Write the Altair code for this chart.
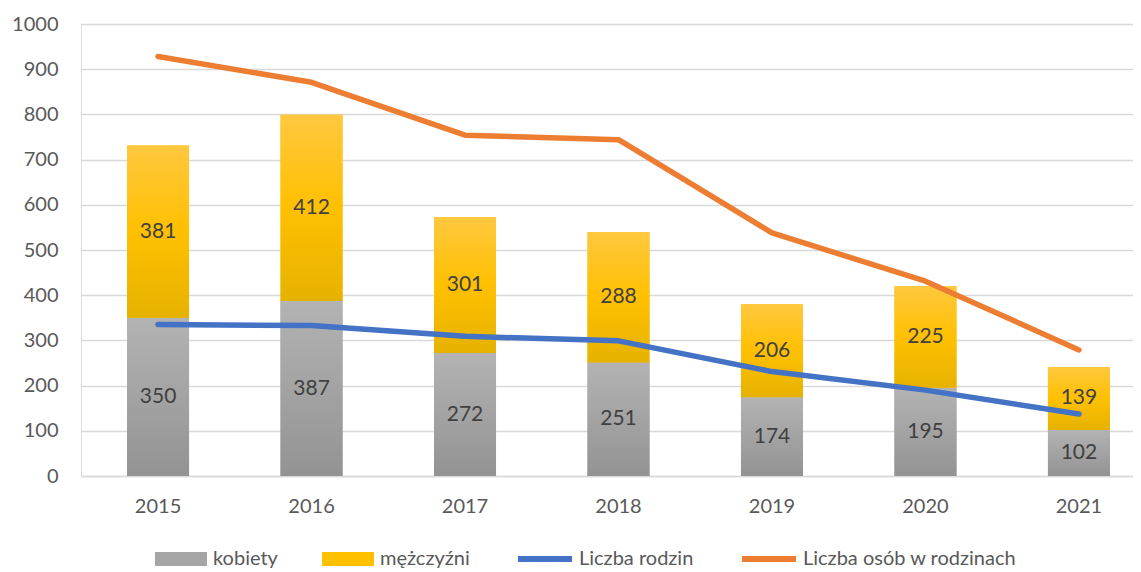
import altair as alt
import pandas as pd

years = ["2015", "2016", "2017", "2018", "2019", "2020", "2021"]
kobiety = [350, 387, 272, 251, 174, 195, 102]
mezczyzni = [381, 412, 301, 288, 206, 225, 139]
liczba_rodzin = [335, 333, 309, 299, 231, 190, 137]
liczba_osob = [928, 871, 754, 744, 538, 431, 279]

bar_series = ["kobiety", "mężczyźni"]
line_series = ["Liczba rodzin", "Liczba osób w rodzinach"]
y_ticks = [0, 100, 200, 300, 400, 500, 600, 700, 800, 900, 1000]

FONT = "Lato"
TEXT_GREY = "#595959"
GRID = "#D9D9D9"

wide = pd.DataFrame({"rok": years, "kobiety": kobiety, "mezczyzni": mezczyzni})
bars_long = pd.DataFrame({
    "rok": years * 2,
    "seria": [bar_series[0]] * len(years) + [bar_series[1]] * len(years),
    "wartosc": kobiety + mezczyzni,
    "kolejnosc": [0] * len(years) + [1] * len(years),
})
lines_long = pd.DataFrame({
    "rok": years * 2,
    "seria_linii": [line_series[0]] * len(years) + [line_series[1]] * len(years),
    "wartosc": liczba_rodzin + liczba_osob,
})

x_scale = alt.Scale(range=[0, 1075], paddingInner=0.596, paddingOuter=0.30)
x_axis = alt.Axis(title=None, labelAngle=0, ticks=False, domain=True, domainColor=GRID,
                  domainWidth=1.3, grid=False, labelPadding=20, labelFontSize=20,
                  labelColor=TEXT_GREY, labelFont=FONT)
y_scale = alt.Scale(domain=[0, 1000], nice=False)
y_axis = alt.Axis(title=None, values=y_ticks, format="d", ticks=False, domain=False, grid=True,
                  gridColor=GRID, gridWidth=1.3, labelPadding=23, labelFontSize=20,
                  labelColor=TEXT_GREY, labelFont=FONT)

X = alt.X("rok:N", sort=years, scale=x_scale, axis=x_axis)

grey_grad = alt.LinearGradient(
    gradient="linear", x1=0, x2=0, y1=0, y2=1,
    stops=[alt.GradientStop(color="#B3B3B3", offset=0),
           alt.GradientStop(color="#939393", offset=1)])
gold_grad = alt.LinearGradient(
    gradient="linear", x1=0, x2=0, y1=0, y2=1,
    stops=[alt.GradientStop(color="#FFC83F", offset=0),
           alt.GradientStop(color="#FFC000", offset=0.5),
           alt.GradientStop(color="#E6B200", offset=1)])

bars = alt.Chart(bars_long).mark_bar(strokeWidth=0).encode(
    x=X,
    y=alt.Y("wartosc:Q", stack="zero", scale=y_scale, axis=y_axis),
    color=alt.Color("seria:N", scale=alt.Scale(domain=bar_series, range=["#A5A5A5", "#FFC000"]),
                    legend=alt.Legend(title=None, orient="none", legendX=74, legendY=509,
                                      direction="horizontal",
                                      symbolType="M-1,-0.27H1V0.27H-1Z", symbolSize=2704,
                                      symbolStrokeWidth=0, labelOffset=6, columnPadding=44,
                                      labelFontSize=20, labelColor=TEXT_GREY, labelFont=FONT,
                                      labelLimit=500, padding=0)),
    order=alt.Order("kolejnosc:Q"),
)

grey_bars = alt.Chart(wide).mark_bar(fill=grey_grad, strokeWidth=0).encode(
    x=X, y=alt.Y("kobiety:Q", scale=y_scale))

gold_bars = alt.Chart(wide).transform_calculate(
    suma="datum.kobiety + datum.mezczyzni"
).mark_bar(fill=gold_grad, strokeWidth=0).encode(
    x=X, y=alt.Y("suma:Q", scale=y_scale), y2="kobiety:Q")

text_k = alt.Chart(wide).transform_calculate(
    srodek="datum.kobiety / 2"
).mark_text(font=FONT, fontSize=21, color="#404040", baseline="middle").encode(
    x=X, y=alt.Y("srodek:Q", scale=y_scale), text="kobiety:Q")

text_m = alt.Chart(wide).transform_calculate(
    srodek="datum.kobiety + datum.mezczyzni / 2"
).mark_text(font=FONT, fontSize=21, color="#404040", baseline="middle").encode(
    x=X, y=alt.Y("srodek:Q", scale=y_scale), text="mezczyzni:Q")

lines = alt.Chart(lines_long).mark_line(strokeWidth=5.5, strokeCap="round", strokeJoin="round").encode(
    x=X,
    y=alt.Y("wartosc:Q", scale=y_scale),
    color=alt.Color("seria_linii:N",
                    scale=alt.Scale(domain=line_series, range=["#4472C4", "#ED7D31"]),
                    legend=alt.Legend(title=None, orient="none", legendX=434, legendY=505,
                                      direction="horizontal", symbolType="stroke",
                                      symbolSize=2916, symbolStrokeWidth=6, labelOffset=4,
                                      columnPadding=36, labelFontSize=20, labelColor=TEXT_GREY,
                                      labelFont=FONT, labelLimit=500, padding=0)),
)

chart = alt.layer(bars, grey_bars, gold_bars, text_k, text_m, lines).resolve_scale(
    color="independent"
).properties(
    width=1052, height=452,
    autosize=alt.AutoSizeParams(type="none"),
    padding={"left": 73, "top": 16, "right": 0, "bottom": 94},
).configure_view(stroke=None).configure(background="white")

chart.save("out.html", embed_options={"renderer": "svg", "actions": False})
